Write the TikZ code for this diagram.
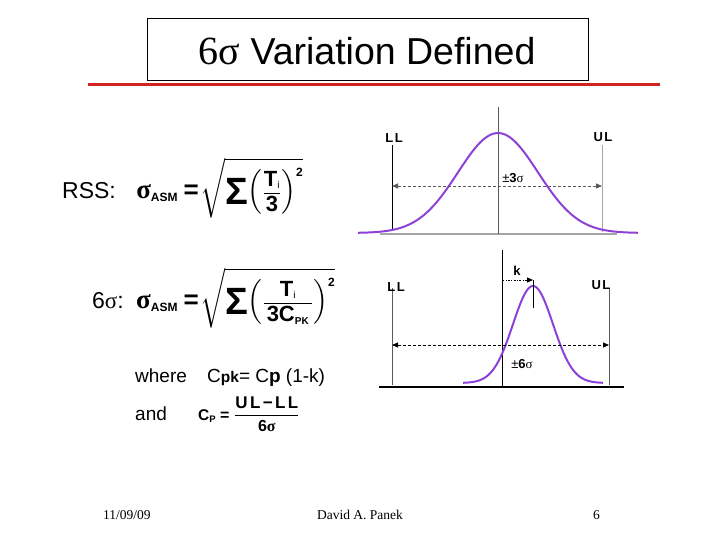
\documentclass[tikz,border=0pt]{standalone}
\usepackage{amsmath}
\usepackage{fontspec}
\setmainfont{Liberation Sans}
\newfontfamily\serif{Liberation Serif}
\usetikzlibrary{arrows.meta}
\definecolor{curvecol}{RGB}{140,65,215}
\definecolor{redline}{RGB}{210,35,35}
\definecolor{lgrey}{RGB}{165,165,165}
\definecolor{dgrey}{RGB}{90,90,90}
\newcommand{\fs}[1]{\fontsize{#1}{#1}\selectfont}
\newcommand{\bsig}{\mbox{\serif\bfseries σ}}
\newcommand{\bigsig}{\mbox{\serif\bfseries\fs{27}σ}}
\newcommand{\asm}{\mbox{\fs{12}\bfseries ASM}}
\newcommand{\beq}{\mkern4mu\mbox{\fs{26}\bfseries =}\mkern1mu}
\newcommand{\bsum}{\vcenter{\hbox{\fs{38}\bfseries Σ}}}
\newcommand{\myfrac}[2]{\mbox{\fs{17}$\displaystyle\frac{#1}{#2}$}}
\tikzset{
  gcurve/.style={curvecol,line width=2pt},
  vline/.style={line width=1pt},
  lim/.style={font=\fs{13}\bfseries\addfontfeature{LetterSpace=12}},
  dimarrow/.style={dashed,line width=0.9pt,dash pattern=on 3pt off 2pt,{Triangle[length=6pt,width=5pt]}-{Triangle[length=6pt,width=5pt]}},
  formula/.style={anchor=base west,inner sep=0pt,font=\fs{23}},
  small/.style={anchor=base west,inner sep=0pt,font=\fs{19}},
  foot/.style={inner sep=0pt,font=\serif\fs{13.5}}
}
\begin{document}
\begin{tikzpicture}[x=1pt,y=-1pt]
\useasboundingbox (0,0) rectangle (728,546);
% title
\node[draw,line width=1.3pt,minimum width=441pt,minimum height=62pt,anchor=north west,inner sep=0pt] (tbox) at (147,18) {};
\node[anchor=base,inner sep=0pt,font=\fs{37.5}] (title) at (367,64) {{\serif\fs{40}6σ} Variation Defined};
\draw[redline,line width=3pt] (88,84) -- (660,84);

% formula 1
\node[formula] (rss) at (62,198) {RSS:};
\node[formula] (f1) at ([xshift=20pt]rss.base east) {$\displaystyle \bigsig_{\asm}\beq\sqrt{\bsum\mkern-3mu\left(\myfrac{\mbox{\fs{22}\bfseries T}_{\mbox{\fs{10}i}}}{\mbox{\fs{22}\bfseries 3}}\right)^{\mbox{\fs{12}\bfseries 2}}}$};

% formula 2
\node[formula] (six) at (92,308) {6{\serif σ}:};
\node[formula] (f2) at ([xshift=12pt]six.base east) {$\displaystyle \bigsig_{\asm}\beq\sqrt{\bsum\mkern-3mu\left(\myfrac{\mbox{\fs{22}\bfseries T}_{\mbox{\fs{10}i}}}{\mkern3mu\mbox{\fs{22}\bfseries 3C}_{\mbox{\fs{10}\bfseries PK}}\mkern3mu}\right)^{\mbox{\fs{12}\bfseries 2}}}$};

% where / and
\node[small] (where) at (135,382) {where};
\node[small] (cpk) at (207,382) {C{\fs{15.5}\bfseries pk}= C{\bfseries p} (1-k)};
\node[small] (and) at (135,420) {and};
\node[small] (cp) at (198,420) {$\mbox{\fs{15.5}\bfseries C}_{\mbox{\fs{9.5}\bfseries P}}\mkern4mu\mbox{\fs{16}\bfseries =}\mkern5mu\dfrac{\mbox{\fs{17}\bfseries\addfontfeature{LetterSpace=14}UL−LL}}{\mbox{\fs{16}\bfseries 6\bsig}}$};

% graph 1
\coordinate (c1top) at (498,107); \coordinate (c1bot) at (498,234);
\coordinate (ll1top) at (392,145); \coordinate (ll1bot) at (392,229);
\coordinate (ul1top) at (602,145); \coordinate (ul1bot) at (602,232);
\coordinate (b1l) at (380,234); \coordinate (b1r) at (617,234);
\draw[lgrey,line width=1.2pt] (b1l) -- (b1r);
\draw[vline,dgrey] (c1top) -- (c1bot);
\draw[vline,black] (ll1top) -- (ll1bot);
\draw[vline,lgrey] (ul1top) -- (ul1bot);
\draw[gcurve] plot[domain=-3.5:3.5,samples=90,smooth] ({498+40*\x},{233-100*exp(-\x*\x/2)});
\coordinate (a1l) at (392,186); \coordinate (a1r) at (602,186);
\draw[dimarrow,dgrey] (a1l) -- (a1r);
\node[lim] (ll1) at (394,138) {LL};
\node[lim] (ul1) at (603,137) {UL};
\node[font=\fs{13}] (pm3) at (513,178) {±\textbf{3}{\serif σ}};

% graph 2
\coordinate (c2top) at (502,250); \coordinate (c2bot) at (502,387);
\coordinate (ll2top) at (392,288); \coordinate (ll2bot) at (392,385);
\coordinate (ul2top) at (609,288); \coordinate (ul2bot) at (609,385);
\coordinate (b2l) at (379,387); \coordinate (b2r) at (624,387);
\draw[black,line width=1.2pt] (b2l) -- (b2r);
\draw[vline,black] (c2top) -- (c2bot);
\draw[vline,dgrey] (ll2top) -- (ll2bot);
\draw[vline,dgrey] (ul2top) -- (ul2bot);
\draw[gcurve] plot[domain=-3.5:3.5,samples=90,smooth] ({533+20*\x},{383-97*exp(-\x*\x/2)});
\coordinate (tk1) at (533,280); \coordinate (tk2) at (533,308);
\draw[line width=1pt] (tk1) -- (tk2);
\coordinate (k0) at (502,280);
\draw[line width=0.8pt,dash pattern=on 2pt off 1.5pt on 0.8pt off 1.5pt,-{Triangle[length=6pt,width=5pt]}] (k0) -- (tk1);
\coordinate (a2l) at (392,345); \coordinate (a2r) at (609,345);
\draw[dimarrow,black] (a2l) -- (a2r);
\node[lim] (ll2) at (396,287) {LL};
\node[lim] (ul2) at (601,285) {UL};
\node[font=\fs{13}\bfseries] (k) at (517,271) {k};
\node[font=\fs{13}] (pm6) at (522,364) {±\textbf{6}{\serif σ}};

% footer
\node[foot,anchor=base west] (date) at (103,519) {11/09/09};
\node[foot,anchor=base] (author) at (360,519) {David A. Panek};
\node[foot,anchor=base east] (page) at (600,519) {6};
\end{tikzpicture}
\end{document}
